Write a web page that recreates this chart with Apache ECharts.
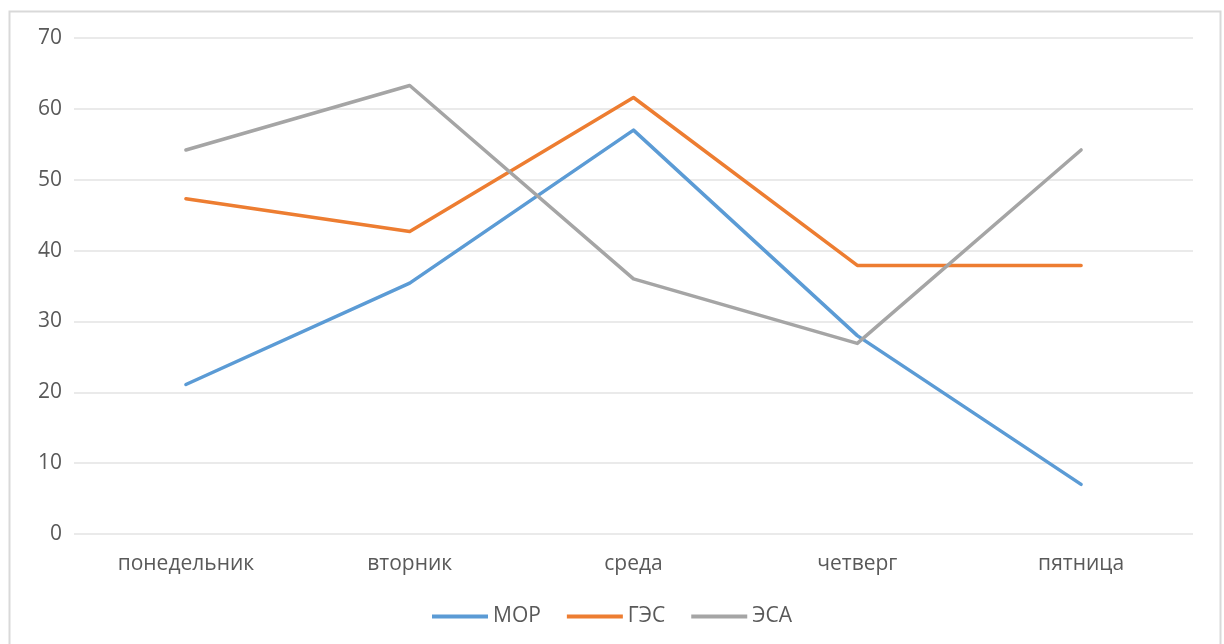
<!DOCTYPE html>
<html><head><meta charset="utf-8">
<script src="https://cdn.jsdelivr.net/npm/echarts@6/dist/echarts.min.js"></script>
<style>html,body{margin:0;padding:0;background:#fff}#c{width:1224px;height:644px}</style>
</head><body><div id="c"></div>
<script>
const categories = ['понедельник','вторник','среда','четверг','пятница'];
const mor = [21.1, 35.4, 57, 28, 7];
const ges = [47.3, 42.7, 61.6, 37.9, 37.9];
const esa = [54.2, 63.3, 36, 26.9, 54.2];
const yTicks = {min: 0, max: 70, interval: 10};

const chart = echarts.init(document.getElementById('c'));
const font = '"Open Sans", "Noto Sans", sans-serif';
function s(name, data, color){
  return {name, type:'line', data, symbol:'none', smooth:false,
    lineStyle:{width:3.5, color, cap:'round', join:'round'}, itemStyle:{color}};
}
chart.setOption({
  animation:false,
  graphic:[{type:'rect', shape:{x:9.5, y:11.5, width:1211, height:650}, style:{fill:'none', stroke:'#d9d9d9', lineWidth:2}, silent:true}],
  grid:{left:74, right:31, top:38, bottom:110},
  legend:{bottom:12, left:'center', itemWidth:56, itemHeight:4, itemGap:26,
    icon:'rect',
    textStyle:{color:'#595959', fontSize:21, fontFamily:font, padding:[0,0,0,0]},
    data:['МОР','ГЭС','ЭСА']},
  xAxis:{type:'category', data:categories, boundaryGap:true,
    axisLine:{show:false}, axisTick:{show:false},
    axisLabel:{color:'#595959', fontSize:21, fontFamily:font, margin:20}},
  yAxis:{type:'value', min:yTicks.min, max:yTicks.max, interval:yTicks.interval,
    axisLine:{show:false}, axisTick:{show:false},
    axisLabel:{color:'#595959', fontSize:21, fontFamily:font, margin:12}},
  series:[s('МОР', mor, '#5b9bd5'), s('ГЭС', ges, '#ed7d31'), s('ЭСА', esa, '#a5a5a5')]
});
chart.setOption({yAxis:{splitLine:{lineStyle:{color:'#e3e3e3', width:1.5}}}});
</script></body></html>
